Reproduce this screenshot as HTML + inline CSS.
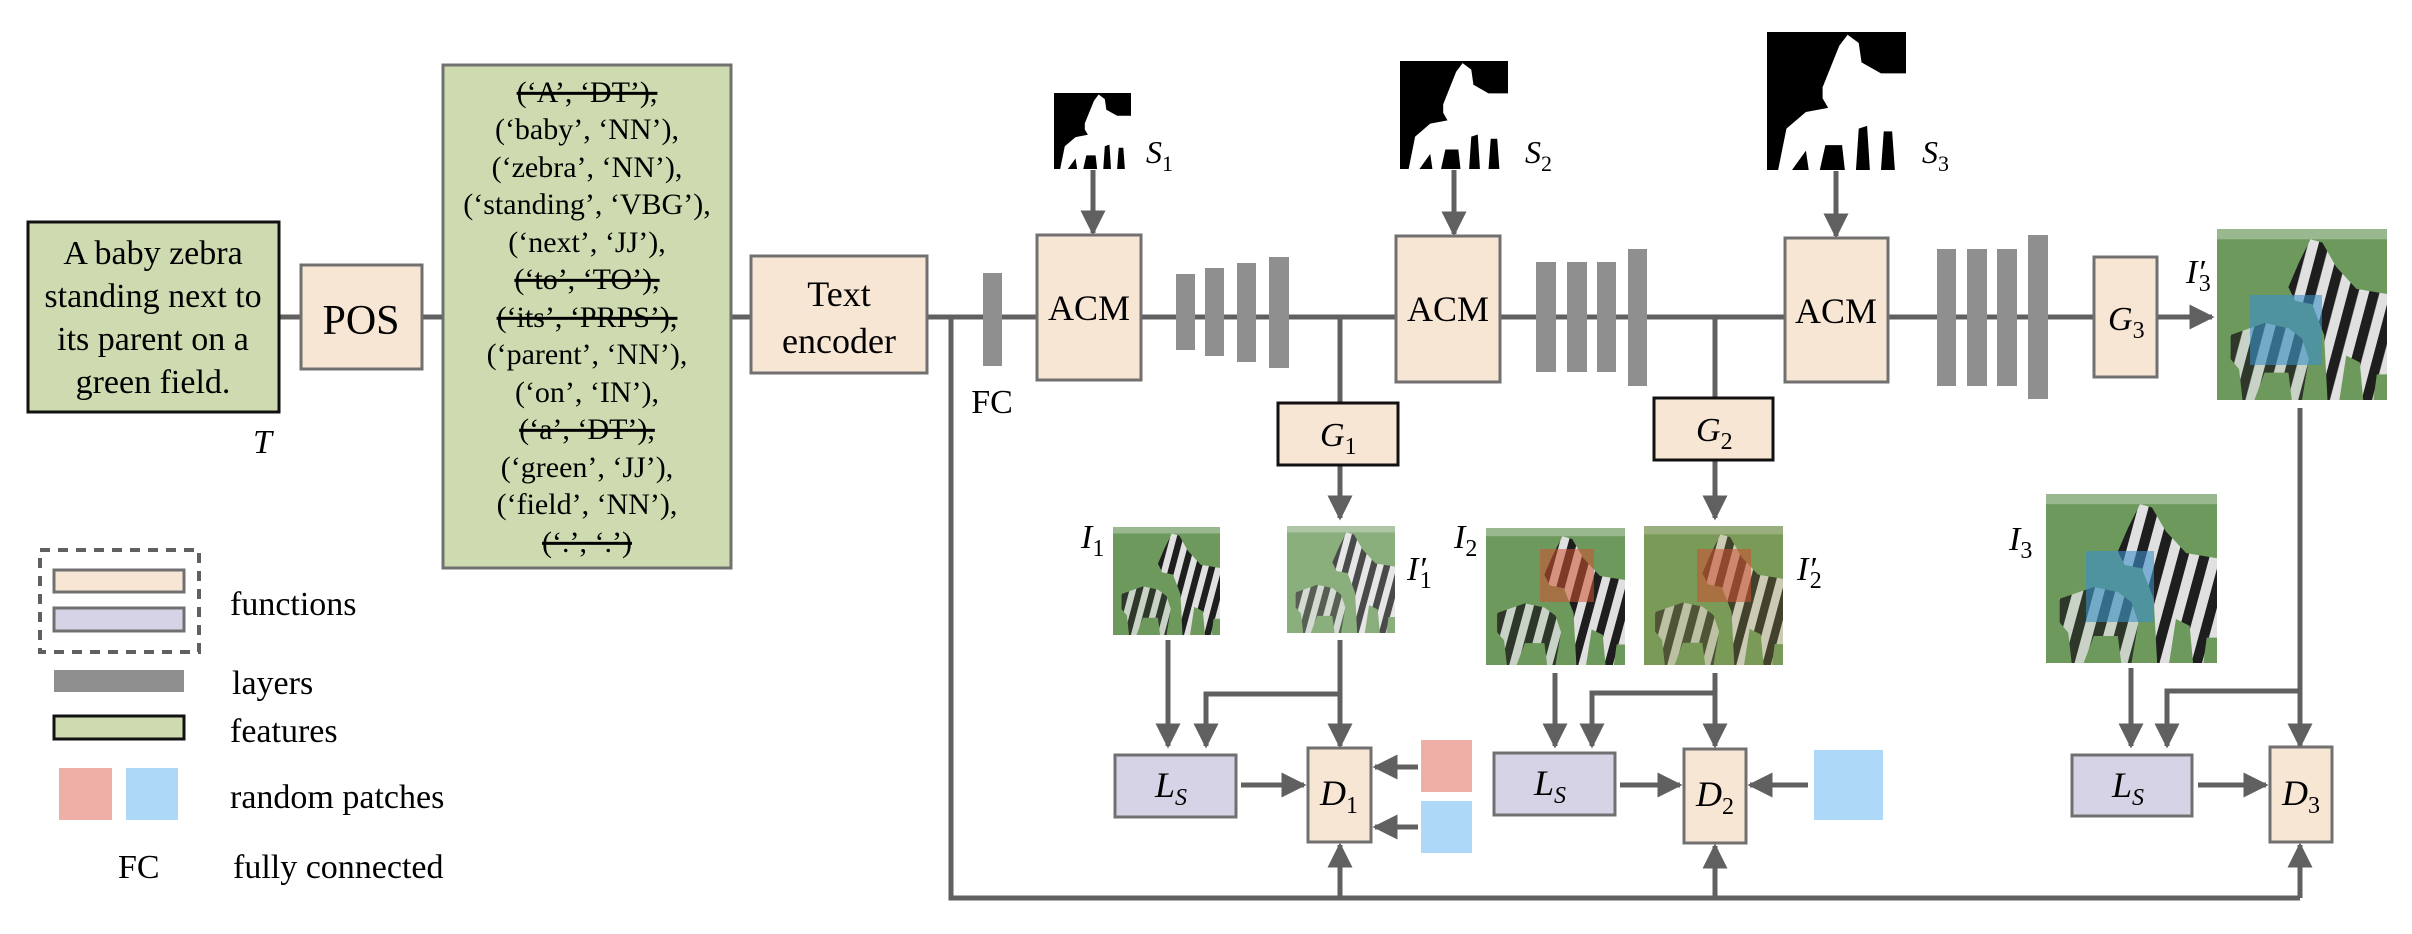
<!DOCTYPE html>
<html><head><meta charset="utf-8"><style>
html,body{margin:0;padding:0;background:#fff;}
svg{display:block}
svg text{font-family:"Liberation Serif","Times New Roman",Times,"DejaVu Serif",serif}
</style></head><body>
<svg width="2412" height="934" viewBox="0 0 2412 934" xmlns="http://www.w3.org/2000/svg">
<defs>
<marker id="ah" viewBox="0 0 10 10" refX="9" refY="5" markerWidth="5" markerHeight="5" orient="auto" markerUnits="strokeWidth"><path d="M0,0 L10,5 L0,10 z" fill="#606060"/></marker>
<pattern id="zs" width="12" height="12" patternUnits="userSpaceOnUse" patternTransform="rotate(15)"><rect width="12" height="12" fill="#e0e0e0"/><rect width="6" height="12" fill="#1e1e1e"/></pattern>
<g id="zeb">
<rect x="0" y="0" width="100" height="100" fill="#6d9a5c"/>
<rect x="0" y="0" width="100" height="6" fill="#9ab890"/>
<path d="M48,20 L55,6 L62,8 L70,22 L82,35 L100,38 L100,85 L94,85 L92,100 L86,100 L84,78 L76,74 L72,100 L65,100 L63,62 L56,44 L46,42 L42,34 z" fill="url(#zs)"/>
<path d="M8,62 L28,55 L42,58 L50,64 L54,76 L50,100 L44,100 L42,84 L28,84 L22,100 L15,100 L13,82 L8,76 z" fill="url(#zs)" opacity="0.8"/>
</g>
<g id="sil">
<rect x="0" y="0" width="100" height="100" fill="#000"/>
<path d="M40,40 L52,10 L58,2 L66,8 L68,22 L82,30 L100,30 L100,100 L92,100 L90,72 L84,72 L82,100 L74,100 L72,68 L66,70 L64,100 L56,100 L54,82 L42,82 L38,100 L30,100 L28,86 L18,100 L8,100 L14,70 L28,58 L44,55 L40,48 z" fill="#fff"/>
</g>
</defs>

<g fill="none" stroke="#606060" stroke-width="5">
<line x1="280" y1="317" x2="2094" y2="317"/>
<line x1="2157" y1="317" x2="2212" y2="317" marker-end="url(#ah)"/>
<polyline points="951,317 951,898 2300,898"/>
<line x1="1340" y1="898" x2="1340" y2="845" marker-end="url(#ah)"/>
<line x1="1715" y1="898" x2="1715" y2="846" marker-end="url(#ah)"/>
<line x1="2300" y1="898" x2="2300" y2="845" marker-end="url(#ah)"/>
<line x1="1093" y1="170" x2="1093" y2="233" marker-end="url(#ah)"/>
<line x1="1454" y1="170" x2="1454" y2="234" marker-end="url(#ah)"/>
<line x1="1836" y1="171" x2="1836" y2="236" marker-end="url(#ah)"/>
<line x1="1340" y1="317" x2="1340" y2="403"/>
<line x1="1340" y1="465" x2="1340" y2="518" marker-end="url(#ah)"/>
<line x1="1715" y1="317" x2="1715" y2="398"/>
<line x1="1715" y1="460" x2="1715" y2="518" marker-end="url(#ah)"/>
<line x1="1168" y1="640" x2="1168" y2="746" marker-end="url(#ah)"/>
<line x1="1340" y1="640" x2="1340" y2="746" marker-end="url(#ah)"/>
<polyline points="1340,694 1206,694 1206,746" marker-end="url(#ah)"/>
<line x1="1241" y1="785" x2="1304" y2="785" marker-end="url(#ah)"/>
<line x1="1418" y1="767" x2="1375" y2="767" marker-end="url(#ah)"/>
<line x1="1418" y1="827" x2="1375" y2="827" marker-end="url(#ah)"/>
<line x1="1555" y1="673" x2="1555" y2="746" marker-end="url(#ah)"/>
<line x1="1715" y1="673" x2="1715" y2="746" marker-end="url(#ah)"/>
<polyline points="1715,693 1592,693 1592,746" marker-end="url(#ah)"/>
<line x1="1620" y1="785" x2="1680" y2="785" marker-end="url(#ah)"/>
<line x1="1808" y1="785" x2="1750" y2="785" marker-end="url(#ah)"/>
<line x1="2131" y1="668" x2="2131" y2="746" marker-end="url(#ah)"/>
<line x1="2300" y1="408" x2="2300" y2="746" marker-end="url(#ah)"/>
<polyline points="2300,691 2167,691 2167,746" marker-end="url(#ah)"/>
<line x1="2198" y1="785" x2="2266" y2="785" marker-end="url(#ah)"/>
</g>

<rect x="28" y="222" width="251" height="190" fill="#cedbb0" stroke="#111" stroke-width="3"/>
<g font-size="34" text-anchor="middle">
<text x="153" y="264">A baby zebra</text>
<text x="153" y="307">standing next to</text>
<text x="153" y="350">its parent on a</text>
<text x="153" y="393">green field.</text>
</g>
<text x="253" y="453" font-size="34" font-style="italic">T</text>

<rect x="301" y="265" width="121" height="104" fill="#f8e6d4" stroke="#707070" stroke-width="3"/>
<text x="361" y="334" font-size="42" text-anchor="middle">POS</text>

<rect x="443" y="65" width="288" height="503" fill="#cedbb0" stroke="#707070" stroke-width="3"/>
<g font-size="30" text-anchor="middle">
<text x="587" y="102" text-decoration="line-through">(‘A’, ‘DT’),</text>
<text x="587" y="139">(‘baby’, ‘NN’),</text>
<text x="587" y="177">(‘zebra’, ‘NN’),</text>
<text x="587" y="214">(‘standing’, ‘VBG’),</text>
<text x="587" y="252">(‘next’, ‘JJ’),</text>
<text x="587" y="289" text-decoration="line-through">(‘to’, ‘TO’),</text>
<text x="587" y="327" text-decoration="line-through">(‘its’, ‘PRPS’),</text>
<text x="587" y="364">(‘parent’, ‘NN’),</text>
<text x="587" y="402">(‘on’, ‘IN’),</text>
<text x="587" y="439" text-decoration="line-through">(‘a’, ‘DT’),</text>
<text x="587" y="477">(‘green’, ‘JJ’),</text>
<text x="587" y="514">(‘field’, ‘NN’),</text>
<text x="587" y="552" text-decoration="line-through">(‘.’, ‘.’)</text>
</g>

<rect x="751" y="256" width="176" height="117" fill="#f8e6d4" stroke="#707070" stroke-width="3"/>
<text x="839" y="306" font-size="36" text-anchor="middle">Text</text>
<text x="839" y="353" font-size="36" text-anchor="middle">encoder</text>

<rect x="983" y="273" width="19" height="93" fill="#8f8f8f"/>
<text x="992" y="413" font-size="34" text-anchor="middle">FC</text>

<g fill="#f8e6d4" stroke="#707070" stroke-width="3">
<rect x="1037" y="235" width="104" height="145"/>
<rect x="1396" y="236" width="104" height="146"/>
<rect x="1785" y="238" width="103" height="144"/>
</g>
<g font-size="36" text-anchor="middle">
<text x="1089" y="320">ACM</text>
<text x="1448" y="321">ACM</text>
<text x="1836" y="323">ACM</text>
</g>

<g fill="#8f8f8f">
<rect x="1176" y="274" width="19" height="76"/>
<rect x="1205" y="268" width="19" height="88"/>
<rect x="1237" y="263" width="19" height="99"/>
<rect x="1269" y="257" width="20" height="111"/>
<rect x="1536" y="262" width="20" height="110"/>
<rect x="1567" y="262" width="20" height="110"/>
<rect x="1597" y="262" width="19" height="110"/>
<rect x="1628" y="249" width="19" height="137"/>
<rect x="1937" y="249" width="19" height="137"/>
<rect x="1967" y="249" width="20" height="137"/>
<rect x="1997" y="249" width="20" height="137"/>
<rect x="2028" y="235" width="20" height="164"/>
</g>

<use href="#sil" transform="translate(1054,93) scale(0.77,0.76)"/>
<use href="#sil" transform="translate(1400,61) scale(1.08,1.08)"/>
<use href="#sil" transform="translate(1767,32) scale(1.39,1.38)"/>
<g font-size="32" font-style="italic">
<text x="1146" y="163">S<tspan font-size="22" font-style="normal" dy="8">1</tspan></text>
<text x="1525" y="163">S<tspan font-size="22" font-style="normal" dy="8">2</tspan></text>
<text x="1922" y="163">S<tspan font-size="22" font-style="normal" dy="8">3</tspan></text>
</g>

<rect x="1278" y="403" width="120" height="62" fill="#f8e6d4" stroke="#111" stroke-width="3"/>
<rect x="1654" y="398" width="119" height="62" fill="#f8e6d4" stroke="#111" stroke-width="3"/>
<rect x="2094" y="257" width="63" height="120" fill="#f8e6d4" stroke="#707070" stroke-width="3"/>
<g font-size="34" font-style="italic">
<text x="1320" y="446">G<tspan font-size="24" font-style="normal" dy="8">1</tspan></text>
<text x="1696" y="441">G<tspan font-size="24" font-style="normal" dy="8">2</tspan></text>
<text x="2108" y="330">G<tspan font-size="24" font-style="normal" dy="8">3</tspan></text>
</g>

<use href="#zeb" transform="translate(1113,527) scale(1.07,1.08)"/>
<g transform="translate(1287,526) scale(1.08,1.07)"><use href="#zeb" opacity="0.8"/></g>
<use href="#zeb" transform="translate(1486,528) scale(1.39,1.37)"/>
<rect x="1540" y="549" width="54" height="53" fill="#d05030" opacity="0.55"/>
<g transform="translate(1644,526) scale(1.39,1.39)"><rect width="100" height="100" fill="#9a9a50"/><use href="#zeb" opacity="0.7"/></g>
<rect x="1697" y="549" width="54" height="53" fill="#d05030" opacity="0.55"/>
<use href="#zeb" transform="translate(2217,229) scale(1.70,1.71)"/>
<rect x="2250" y="295" width="72" height="70" fill="#3a90c8" opacity="0.6"/>
<use href="#zeb" transform="translate(2046,494) scale(1.71,1.69)"/>
<rect x="2086" y="551" width="68" height="71" fill="#3a90c8" opacity="0.6"/>

<g font-size="34" font-style="italic">
<text x="1081" y="548">I<tspan font-size="24" font-style="normal" dy="8">1</tspan></text>
<text x="1407" y="580">I′<tspan font-size="24" font-style="normal" dy="8" dx="-6">1</tspan></text>
<text x="1454" y="548">I<tspan font-size="24" font-style="normal" dy="8">2</tspan></text>
<text x="1797" y="580">I′<tspan font-size="24" font-style="normal" dy="8" dx="-6">2</tspan></text>
<text x="2009" y="550">I<tspan font-size="24" font-style="normal" dy="8">3</tspan></text>
<text x="2186" y="283">I′<tspan font-size="24" font-style="normal" dy="8" dx="-6">3</tspan></text>
</g>

<g fill="#d6d3e6" stroke="#707070" stroke-width="3">
<rect x="1115" y="755" width="121" height="62"/>
<rect x="1494" y="753" width="121" height="62"/>
<rect x="2072" y="755" width="120" height="61"/>
</g>
<g fill="#f8e6d4" stroke="#707070" stroke-width="3">
<rect x="1308" y="748" width="63" height="94"/>
<rect x="1684" y="749" width="62" height="94"/>
<rect x="2270" y="747" width="62" height="95"/>
</g>
<g font-size="36" font-style="italic">
<text x="1155" y="797">L<tspan font-size="24" dy="8">S</tspan></text>
<text x="1534" y="795">L<tspan font-size="24" dy="8">S</tspan></text>
<text x="2112" y="797">L<tspan font-size="24" dy="8">S</tspan></text>
<text x="1320" y="805">D<tspan font-size="24" font-style="normal" dy="8">1</tspan></text>
<text x="1696" y="806">D<tspan font-size="24" font-style="normal" dy="8">2</tspan></text>
<text x="2282" y="805">D<tspan font-size="24" font-style="normal" dy="8">3</tspan></text>
</g>
<rect x="1421" y="740" width="51" height="52" fill="#edafa6"/>
<rect x="1421" y="801" width="51" height="52" fill="#add8f8"/>
<rect x="1814" y="750" width="69" height="70" fill="#add8f8"/>

<rect x="40" y="550" width="159" height="102" fill="none" stroke="#606060" stroke-width="4" stroke-dasharray="10,8"/>
<rect x="54" y="570" width="130" height="22" fill="#f8e6d4" stroke="#707070" stroke-width="3"/>
<rect x="54" y="608" width="130" height="23" fill="#d6d3e6" stroke="#707070" stroke-width="3"/>
<rect x="54" y="670" width="130" height="22" fill="#8f8f8f"/>
<rect x="54" y="716" width="130" height="23" fill="#cedbb0" stroke="#111" stroke-width="3"/>
<rect x="59" y="768" width="53" height="52" fill="#edafa6"/>
<rect x="126" y="768" width="52" height="52" fill="#add8f8"/>
<g font-size="34">
<text x="230" y="615">functions</text>
<text x="232" y="694">layers</text>
<text x="230" y="742">features</text>
<text x="230" y="808">random patches</text>
<text x="118" y="878">FC</text>
<text x="233" y="878">fully connected</text>
</g>
</svg>
</body></html>
